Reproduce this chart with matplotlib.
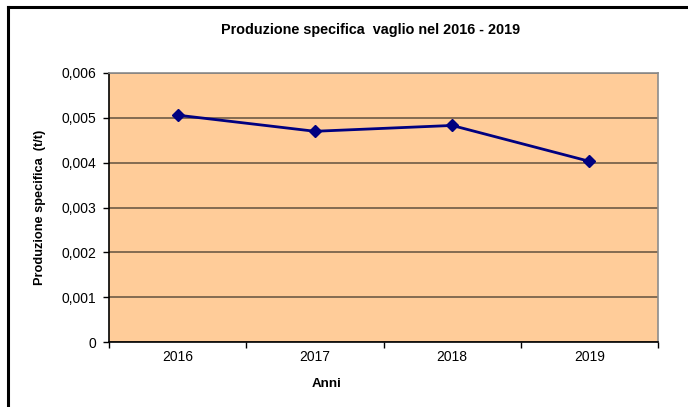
import matplotlib
matplotlib.use("Agg")
import matplotlib.pyplot as plt
from matplotlib.lines import Line2D

plt.rcParams['font.family'] = ['Liberation Sans', 'DejaVu Sans']

years = ["2016", "2017", "2018", "2019"]
produzione = [0.00506, 0.00470, 0.00483, 0.00403]
y_ticks = [0, 0.001, 0.002, 0.003, 0.004, 0.005, 0.006]
y_tick_labels = ["0", "0,001", "0,002", "0,003", "0,004", "0,005", "0,006"]

W, H = 688, 407
fig = plt.figure(figsize=(W / 100, H / 100), dpi=100)

# chart frame (open on the right and bottom)
fig.add_artist(Line2D([7.5 / W, 7.5 / W], [1 - 6.5 / H, 1 - 405 / H], color="black", lw=2.2,
                      transform=fig.transFigure))
fig.add_artist(Line2D([7.5 / W, 1.0], [1 - 6.5 / H, 1 - 6.5 / H], color="black", lw=2.2,
                      transform=fig.transFigure))

left, right, top, bottom = 109, 658, 73, 342
ax = fig.add_axes([left / W, 1 - bottom / H, (right - left) / W, (bottom - top) / H])
ax.set_facecolor("#FFCC99")

x = list(range(len(years)))
ax.plot(x, produzione, color="#000080", lw=2, marker="D", ms=6.5, zorder=3)

ax.set_xlim(-0.5, len(years) - 0.5)
ax.set_ylim(0, 0.006)
ax.set_yticks(y_ticks)
ax.set_yticklabels(y_tick_labels, fontsize=10)
ax.set_xticks([i - 0.5 for i in range(len(years) + 1)])
ax.set_xticklabels([])
ax.set_xticks(x, minor=True)
ax.set_xticklabels(years, minor=True, fontsize=10)
ax.tick_params(axis="x", which="minor", length=0, pad=6)
ax.tick_params(axis="x", which="major", length=4, width=1, direction="out", color="black")
ax.tick_params(axis="y", length=4, width=1, direction="out", color="black", pad=5)

ax.yaxis.grid(True, color="#6e5a46", lw=1.2)
ax.set_axisbelow(True)

for side in ("top", "right"):
    ax.spines[side].set_color("#8c8c8c")
    ax.spines[side].set_linewidth(1.2)
for side in ("left", "bottom"):
    ax.spines[side].set_color("black")
    ax.spines[side].set_linewidth(1.2)

fig.text(371 / W, 1 - 30 / H, "Produzione specifica  vaglio nel 2016 - 2019",
         ha="center", va="center", fontsize=10.4, fontweight="bold")
fig.text(40 / W, 1 - 207 / H, "Produzione specifica  (t/t)", rotation=90,
         ha="center", va="center", fontsize=9.2, fontweight="bold")
fig.text(327 / W, 1 - 384 / H, "Anni", ha="center", va="center",
         fontsize=9.6, fontweight="bold")

fig.savefig("out.png", dpi=100)
